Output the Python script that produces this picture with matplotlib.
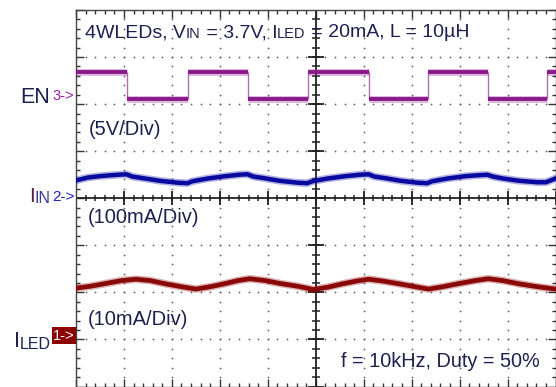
import numpy as np
import matplotlib.pyplot as plt
from matplotlib.patches import Rectangle

plt.rcParams['font.family'] = ['Liberation Sans', 'DejaVu Sans']

# scope settings: 40us/div, 10 div across, 8 div high
T_DIV = 40.0
N_XDIV, N_YDIV = 10, 8

# EN, 5V/div, ground marker level (div)
en_ref, en_scale = 2.117, 5.0
en_edges = [42.5, 93.3, 143.3, 193.3, 244.2, 293.3, 343.3, 392.5]
en_high, en_low = 2.8, 0.0   # V, starts high

# I_IN, 100mA/div
iin_ref, iin_scale = 0.0, 100.0
t_iin = [0, 10, 20, 30, 42, 47, 55, 70, 85, 93, 97, 110, 125, 136, 143, 148, 156, 170, 185, 193,
         197, 210, 225, 237, 244, 249, 257, 271, 285, 293, 297, 310, 325, 336, 343, 348, 356, 370,
         385, 392, 396, 400]
iin = [38, 44, 47, 49, 51, 46, 43, 37, 33, 32, 36, 42, 47, 50, 51, 46, 43, 37, 33, 32,
       36, 42, 47, 50, 51, 46, 43, 37, 33, 32, 36, 42, 47, 49, 50, 46, 42, 37,
       34, 34, 38, 42]

# I_LED, 10mA/div
iled_ref, iled_scale = -3.02, 10.0
t_iled = [0, 12, 25, 38, 50, 62, 75, 88, 100, 112, 125, 135, 145, 158, 170, 185, 198, 210, 222,
          234, 244, 256, 270, 283, 294, 306, 320, 333, 344, 356, 370, 385, 400]
iled = [11.1, 11.5, 12.1, 12.7, 13.0, 12.7, 12.0, 11.4, 10.9, 11.4, 12.1, 12.7, 13.1, 12.7, 12.1,
        11.5, 10.8, 11.3, 12.0, 12.6, 13.0, 12.6, 12.0, 11.4, 10.9, 11.4, 12.1, 12.7, 13.1, 12.7,
        12.0, 11.4, 10.9]

EN_C, IIN_C, ILED_C = '#8a1a8a', '#0a0aa0', '#8b0808'
TXT_C = '#1e2050'

W, H = 556, 387
def fx(x): return x / W
def fy(y): return 1 - y / H

fig = plt.figure(figsize=(W / 100, H / 100), dpi=100)
ax = fig.add_axes([fx(76), fy(386.5), 479.5 / W, 376.5 / H])
ax.set_xlim(0, T_DIV * N_XDIV)
ax.set_ylim(-N_YDIV / 2, N_YDIV / 2)
xmid = T_DIV * N_XDIV / 2

# dotted graticule
gy = np.arange(-4, 4.01, 0.2)
for k in range(1, N_XDIV):
    if k * T_DIV == xmid:
        continue
    ax.plot(np.full_like(gy, k * T_DIV), gy, ls='none', marker='o', ms=1.3, mew=0,
            color='#666666', zorder=1)
gx = np.arange(0, 401, 8)
for k in [-3, -2, -1, 1, 2, 3]:
    ax.plot(gx, np.full_like(gx, k, dtype=float), ls='none', marker='o', ms=1.3, mew=0,
            color='#666666', zorder=1)

# centre cross with ticks
ax.axhline(0, color='#222222', lw=1.3, zorder=2)
ax.axvline(xmid, color='#222222', lw=1.3, zorder=2)
ax.plot(gx, np.zeros_like(gx), ls='none', marker='|', ms=5, mew=1.1, color='#222222', zorder=2)
gmaj = np.arange(0, 401, T_DIV)
ax.plot(gmaj, np.zeros_like(gmaj), ls='none', marker='|', ms=10, mew=1.3, color='#222222', zorder=2)
ax.plot(np.full_like(gy, xmid), gy, ls='none', marker='_', ms=6, mew=1.1, color='#222222', zorder=2)
ymaj = np.arange(-4, 5, 1.0)
ax.plot(np.full_like(ymaj, xmid), ymaj, ls='none', marker='_', ms=12, mew=1.3, color='#222222', zorder=2)

# border ticks
ax.set_xticks(gmaj)
ax.set_xticks(gx, minor=True)
ax.set_yticks(ymaj)
ax.set_yticks(gy, minor=True)
ax.tick_params(which='both', direction='in', top=True, right=True, color='#333333',
               labelbottom=False, labelleft=False)
ax.tick_params(which='major', length=5.5, width=1)
ax.tick_params(which='minor', length=3, width=1)
for s in ax.spines.values():
    s.set_color('#444444')
    s.set_linewidth(1)

# EN trace
bounds = [0] + en_edges + [T_DIV * N_XDIV]
yh = en_ref + en_high / en_scale
yl = en_ref + en_low / en_scale
ax.vlines(en_edges, yl, yh, color='#b070b0', lw=1, zorder=3)
for i in range(len(bounds) - 1):
    y = yh if i % 2 == 0 else yl
    ax.hlines(y, bounds[i], bounds[i + 1], color=EN_C, lw=5, alpha=0.3, zorder=4)
    ax.hlines(y, bounds[i], bounds[i + 1], color=EN_C, lw=2.8, zorder=4)

# current traces
y_iin = iin_ref + np.array(iin) / iin_scale
y_iled = iled_ref + np.array(iled) / iled_scale
ax.plot(t_iin, y_iin, color=IIN_C, lw=5.5, alpha=0.3, zorder=4)
ax.plot(t_iin, y_iin, color=IIN_C, lw=3.2, zorder=4)
ax.plot(t_iled, y_iled, color=ILED_C, lw=5.5, alpha=0.3, zorder=4)
ax.plot(t_iled, y_iled, color=ILED_C, lw=3.4, zorder=4)


def chain(x, y, pieces):
    prev = None
    for txt, size, col in pieces:
        if prev is None:
            prev = fig.text(fx(x), fy(y), txt, fontsize=size, color=col, va='baseline', ha='left')
        else:
            prev = ax.annotate(txt, xy=(1, 0), xycoords=prev, fontsize=size, color=col,
                               va='bottom', ha='left', annotation_clip=False)
    return prev


chain(85, 37, [('4WLEDs, V', 14, TXT_C), ('IN', 10.5, TXT_C), (' = 3.7V, I', 14, TXT_C),
               ('LED', 10.5, TXT_C), (' = 20mA, L = 10µH', 14, TXT_C)])
fig.text(fx(89), fy(135), '(5V/Div)', fontsize=14.5, color=TXT_C, va='baseline')
fig.text(fx(88), fy(223), '(100mA/Div)', fontsize=14.5, color=TXT_C, va='baseline')
fig.text(fx(88), fy(325), '(10mA/Div)', fontsize=14.5, color=TXT_C, va='baseline')
fig.text(fx(341), fy(367), 'f = 10kHz, Duty = 50%', fontsize=14.3, color=TXT_C, va='baseline')

# channel markers
fig.text(fx(20), fy(103), 'EN', fontsize=15.5, color=TXT_C, va='baseline')
fig.text(fx(52), fy(100.5), '3->', fontsize=10.5, color='#a020a0', va='baseline')
chain(29, 202, [('I', 15, '#5a2048'), ('IN', 11.5, '#3a3a90')])
fig.text(fx(52), fy(201), '2->', fontsize=11, color='#2020c0', va='baseline')
chain(14, 347, [('I', 15.5, TXT_C), ('LED', 11.5, TXT_C)])
fig.patches.append(Rectangle((fx(52), fy(344)), 24 / W, 17 / H, transform=fig.transFigure,
                             facecolor='#8b0000', edgecolor='none'))
fig.text(fx(64), fy(335.5), '1->', fontsize=10.5, color='white', va='center', ha='center')

fig.savefig('out.png', dpi=100)
